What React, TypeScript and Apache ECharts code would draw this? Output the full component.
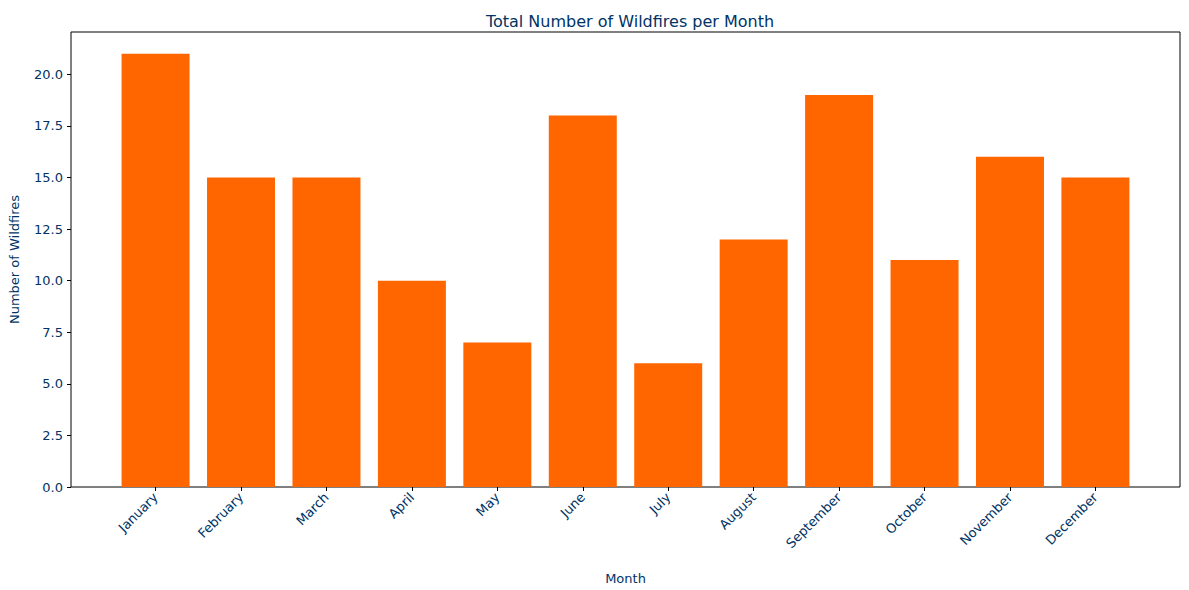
import * as echarts from 'echarts';
import { useEffect, useRef } from 'react';

const months = ['January', 'February', 'March', 'April', 'May', 'June', 'July', 'August', 'September', 'October', 'November', 'December'];
const fires = [21, 15, 15, 10, 7, 18, 6, 12, 19, 11, 16, 15];
const yTicks = [0, 2.5, 5, 7.5, 10, 12.5, 15, 17.5, 20];
const textColor = '#003366';

const App = () => {
    const divRef = useRef<HTMLDivElement>(null);

    useEffect(() => {
        const chart = echarts.init(divRef.current!, null, { renderer: 'svg' });
        chart.setOption({
            animation: false,
            textStyle: { fontFamily: 'DejaVu Sans' },
            title: {
                text: 'Total Number of Wildfires per Month',
                left: 625, top: 8, textAlign: 'center',
                textStyle: { color: textColor, fontSize: 16, fontWeight: 'normal' }
            },
            grid: { left: 70, right: 9, top: 32, bottom: 103, show: true, borderColor: '#000', borderWidth: 1 },
            xAxis: {
                type: 'value', min: -0.99, max: 11.99,
                name: 'Month', nameLocation: 'middle', nameGap: 85,
                nameTextStyle: { color: textColor, fontSize: 13 },
                splitLine: { show: false },
                axisLine: { show: false, onZero: false },
                axisTick: { show: true, customValues: months.map((_, i) => i), length: 4, lineStyle: { color: '#000' } },
                axisLabel: {
                    customValues: months.map((_, i) => i), rotate: 45, color: textColor, fontSize: 13,
                    formatter: (v: number) => months[Math.round(v)]
                }
            },
            yAxis: {
                type: 'value', min: 0, max: 22.05,
                name: 'Number of Wildfires', nameLocation: 'middle', nameGap: 50,
                nameTextStyle: { color: textColor, fontSize: 13 },
                splitLine: { show: false },
                axisLine: { show: false, onZero: false },
                axisTick: { show: true, customValues: yTicks, length: 4, lineStyle: { color: '#000' } },
                axisLabel: {
                    customValues: yTicks, color: textColor, fontSize: 13,
                    formatter: (v: number) => v.toFixed(1)
                }
            },
            series: [{
                type: 'bar',
                data: fires.map((v, i) => [i, v]),
                barWidth: 68,
                itemStyle: { color: '#ff6600' }
            }]
        });
        return () => chart.dispose();
    }, []);

    return <div ref={divRef} style={{ position: 'absolute', left: 0, top: 0, width: 1189, height: 590 }} />;
};

export default App;
